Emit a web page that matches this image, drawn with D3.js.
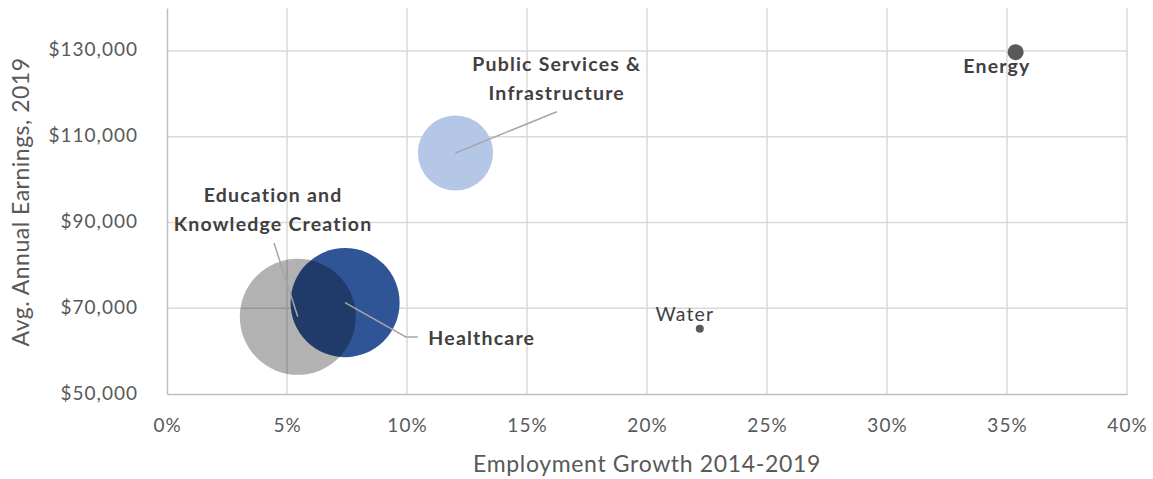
<!DOCTYPE html>
<html>
<head>
<meta charset="utf-8">
<script src="https://cdn.jsdelivr.net/npm/d3@7"></script>
<style>
  body { margin: 0; background: #fff; }
  text { font-family: Lato, "Open Sans", sans-serif; }
</style>
</head>
<body>
<svg id="chart" width="1153" height="479"></svg>
<script>
// sectors, in drawing order (back to front)
var sectors  = ["Public Services & Infrastructure", "Healthcare", "Education and Knowledge Creation", "Water", "Energy"];
var growth   = [12.02, 7.42, 5.45, 22.2, 35.36];          // employment growth 2014-2019, %
var earnings = [106200, 71300, 68000, 65200, 129700];     // avg annual earnings 2019
var jobs     = [14.1, 29.7, 33.6, 0.16, 0.64];            // bubble size
var colors   = ["#b4c7e7", "#2f5597", "rgba(0,0,0,0.3)", "#595959", "#595959"];

// label text lines, bold flag, anchor (first baseline) in data units
var labelLines = [["Public Services &", "Infrastructure"], ["Healthcare"], ["Education and", "Knowledge Creation"], ["Water"], ["Energy"]];
var labelBold  = [true, true, true, false, true];
var labelX     = [16.24, 10.89, 4.42, 21.58, 34.58];
var labelY     = [125300, 61400, 94800, 67100, 124900];
var labelAnchor = ["middle", "start", "middle", "middle", "middle"];
// leader line points (data units), ending at the bubble
var leaders = [
  [[16.24, 115800]],
  [[10.45, 63300], [9.95, 63300]],
  [[4.46, 85200]],
  null,
  null
];

var xTicks = [0, 5, 10, 15, 20, 25, 30, 35, 40];
var yTicks = [50000, 70000, 90000, 110000, 130000];

var svg = d3.select("#chart");
var margin = {top: 8, right: 26, bottom: 85, left: 167},
    width = 1153 - margin.left - margin.right,
    height = 479 - margin.top - margin.bottom;

var g = svg.append("g")
    .attr("transform", "translate(" + margin.left + "," + margin.top + ")");

var x = d3.scaleLinear().domain([0, 40]).range([0, width]);
var y = d3.scaleLinear().domain([50000, 140000]).range([height, 0]);
var r = d3.scaleSqrt().domain([0, 33.6]).range([0, 58]);

// gridlines
g.selectAll(".vgrid")
    .data(xTicks.slice(1))
    .enter().append("line")
    .attr("x1", function (d) { return x(d); })
    .attr("x2", function (d) { return x(d); })
    .attr("y1", 0).attr("y2", height)
    .style("stroke", "#d9d9d9").style("stroke-width", 1.5);

g.selectAll(".hgrid")
    .data(yTicks.slice(1))
    .enter().append("line")
    .attr("x1", 0).attr("x2", width)
    .attr("y1", function (d) { return y(d); })
    .attr("y2", function (d) { return y(d); })
    .style("stroke", "#d9d9d9").style("stroke-width", 1.5);

// axes
var xAxis = g.append("g")
    .attr("transform", "translate(0," + height + ")")
    .call(d3.axisBottom(x).tickValues(xTicks).tickSize(0)
        .tickFormat(function (d) { return d + "%"; }));
var yAxis = g.append("g")
    .call(d3.axisLeft(y).tickValues(yTicks).tickSize(0).tickPadding(29)
        .tickFormat(function (d) { return "$" + d3.format(",")(d); }));

[xAxis, yAxis].forEach(function (a) {
    a.select(".domain").style("stroke", "#bfbfbf").style("stroke-width", 1.5);
    a.selectAll("text")
        .style("font-size", "19px")
        .style("letter-spacing", "1px")
        .style("fill", "#595959");
});
xAxis.selectAll("text").attr("y", 38).attr("dy", 0);
yAxis.selectAll("text").attr("dy", 5);

// bubbles
var idx = d3.range(sectors.length);
g.selectAll(".bubble")
    .data(idx)
    .enter().append("circle")
    .attr("class", "bubble")
    .attr("cx", function (i) { return x(growth[i]); })
    .attr("cy", function (i) { return y(earnings[i]); })
    .attr("r", function (i) { return r(jobs[i]); })
    .style("fill", function (i) { return colors[i]; });

// leader lines
var line = d3.line();
idx.forEach(function (i) {
    if (!leaders[i]) return;
    var pts = leaders[i].map(function (p) { return [x(p[0]), y(p[1])]; });
    pts.push([x(growth[i]), y(earnings[i])]);
    g.append("path")
        .attr("d", line(pts))
        .style("fill", "none")
        .style("stroke", "#a6a6a6")
        .style("stroke-width", 1.5);
});

// data labels
idx.forEach(function (i) {
    var t = g.append("text")
        .attr("x", x(labelX[i]))
        .attr("y", y(labelY[i]))
        .attr("text-anchor", labelAnchor[i])
        .style("font-size", "19.5px")
        .style("letter-spacing", "1.2px")
        .style("font-weight", labelBold[i] ? "bold" : "normal")
        .style("fill", "#404040");
    labelLines[i].forEach(function (s, k) {
        t.append("tspan")
            .attr("x", x(labelX[i]))
            .attr("dy", k === 0 ? 0 : 29)
            .text(s);
    });
});

// axis titles
svg.append("text")
    .attr("x", margin.left + width / 2)
    .attr("y", 472)
    .attr("text-anchor", "middle")
    .style("font-size", "23px")
    .style("letter-spacing", "0.65px")
    .style("fill", "#595959")
    .text("Employment Growth 2014-2019");

svg.append("text")
    .attr("transform", "translate(29," + (margin.top + 194) + ") rotate(-90)")
    .attr("text-anchor", "middle")
    .style("font-size", "23px")
    .style("letter-spacing", "0.5px")
    .style("fill", "#595959")
    .text("Avg. Annual Earnings, 2019");
</script>
</body>
</html>
